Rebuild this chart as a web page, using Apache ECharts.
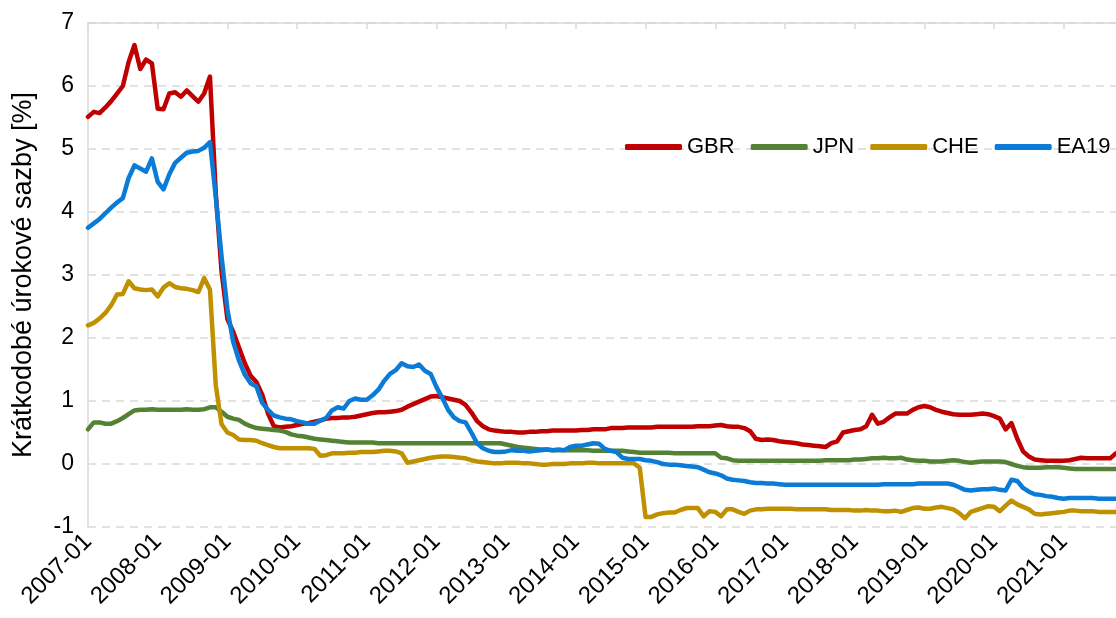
<!DOCTYPE html>
<html>
<head>
<meta charset="utf-8">
<script src="https://cdn.jsdelivr.net/npm/echarts@6/dist/echarts.min.js"></script>
<style>
  html, body { margin: 0; padding: 0; background: #fff; }
  #chart { width: 1116px; height: 618px; }
</style>
</head>
<body>
<div id="chart"></div>
<script>
// měsíce 2007-01 .. 2021-10
const months = [];
for (let y = 2007; y <= 2021; y++) {
    for (let m = 1; m <= 12; m++) {
        if (y === 2021 && m > 10) break;
        months.push(y + '-' + (m < 10 ? '0' + m : m));
    }
}

const gbr = [
    5.51, 5.59, 5.57, 5.66, 5.76, 5.88, 6.00, 6.38, 6.65, 6.27, 6.42, 6.36,
    5.64, 5.63, 5.88, 5.90, 5.83, 5.93, 5.84, 5.75, 5.88, 6.15, 4.30, 3.05,
    2.30, 2.10, 1.85, 1.60, 1.40, 1.30, 1.10, 0.80, 0.60, 0.58, 0.59, 0.60,
    0.62, 0.64, 0.65, 0.67, 0.69, 0.72, 0.73, 0.73, 0.74, 0.74, 0.75, 0.77,
    0.79, 0.81, 0.82, 0.82, 0.83, 0.84, 0.86, 0.91, 0.95, 0.99, 1.03, 1.07,
    1.08, 1.06, 1.04, 1.02, 1.00, 0.94, 0.82, 0.68, 0.60, 0.55, 0.53, 0.52,
    0.51, 0.51, 0.50, 0.50, 0.51, 0.51, 0.52, 0.52, 0.53, 0.53, 0.53, 0.53,
    0.53, 0.54, 0.54, 0.55, 0.55, 0.55, 0.57, 0.57, 0.57, 0.58, 0.58, 0.58,
    0.58, 0.58, 0.59, 0.59, 0.59, 0.59, 0.59, 0.59, 0.59, 0.60, 0.60, 0.60,
    0.61, 0.62, 0.60, 0.59, 0.59, 0.57, 0.52, 0.40, 0.38, 0.39, 0.38, 0.36,
    0.35, 0.34, 0.33, 0.31, 0.30, 0.29, 0.28, 0.27, 0.33, 0.36, 0.50, 0.52,
    0.54, 0.55, 0.60, 0.78, 0.64, 0.67, 0.74, 0.80, 0.80, 0.80, 0.86, 0.90,
    0.92, 0.90, 0.86, 0.83, 0.81, 0.79, 0.78, 0.78, 0.78, 0.79, 0.80, 0.79,
    0.76, 0.72, 0.55, 0.65, 0.40, 0.20, 0.12, 0.07, 0.06, 0.05, 0.05, 0.05,
    0.05, 0.06, 0.08, 0.10, 0.09, 0.09, 0.09, 0.09, 0.09, 0.17
];

const jpn = [
    0.55, 0.66, 0.66, 0.64, 0.64, 0.68, 0.73, 0.79, 0.85, 0.86, 0.86, 0.87,
    0.86, 0.86, 0.86, 0.86, 0.86, 0.87, 0.86, 0.86, 0.87, 0.90, 0.90, 0.83,
    0.75, 0.72, 0.70, 0.64, 0.60, 0.57, 0.56, 0.55, 0.54, 0.53, 0.51, 0.47,
    0.45, 0.44, 0.42, 0.40, 0.39, 0.38, 0.37, 0.36, 0.35, 0.34, 0.34, 0.34,
    0.34, 0.34, 0.33, 0.33, 0.33, 0.33, 0.33, 0.33, 0.33, 0.33, 0.33, 0.33,
    0.33, 0.33, 0.33, 0.33, 0.33, 0.33, 0.33, 0.33, 0.33, 0.33, 0.33, 0.33,
    0.31, 0.29, 0.27, 0.26, 0.25, 0.24, 0.23, 0.23, 0.22, 0.22, 0.22, 0.22,
    0.22, 0.22, 0.22, 0.21, 0.21, 0.21, 0.21, 0.21, 0.21, 0.20, 0.19, 0.18,
    0.18, 0.18, 0.18, 0.18, 0.18, 0.17, 0.17, 0.17, 0.17, 0.17, 0.17, 0.17,
    0.17, 0.10, 0.09, 0.06, 0.05, 0.05, 0.05, 0.05, 0.05, 0.05, 0.05, 0.05,
    0.05, 0.05, 0.05, 0.05, 0.05, 0.05, 0.05, 0.06, 0.06, 0.06, 0.06, 0.06,
    0.07, 0.07, 0.08, 0.09, 0.09, 0.10, 0.09, 0.09, 0.10, 0.07, 0.06, 0.05,
    0.05, 0.04, 0.04, 0.04, 0.05, 0.06, 0.05, 0.03, 0.02, 0.03, 0.04, 0.04,
    0.04, 0.04, 0.03, 0.00, -0.03, -0.05, -0.06, -0.06, -0.06, -0.05, -0.05, -0.05,
    -0.06, -0.07, -0.08, -0.08, -0.08, -0.08, -0.08, -0.08, -0.08, -0.08
];

const che = [
    2.20, 2.24, 2.31, 2.40, 2.52, 2.69, 2.70, 2.90, 2.79, 2.77, 2.76, 2.77,
    2.66, 2.80, 2.87, 2.81, 2.79, 2.78, 2.76, 2.73, 2.95, 2.77, 1.25, 0.63,
    0.50, 0.46, 0.39, 0.38, 0.38, 0.37, 0.33, 0.30, 0.27, 0.25, 0.25, 0.25,
    0.25, 0.25, 0.25, 0.24, 0.13, 0.14, 0.17, 0.17, 0.17, 0.18, 0.18, 0.19,
    0.19, 0.19, 0.20, 0.21, 0.21, 0.20, 0.17, 0.02, 0.04, 0.06, 0.08, 0.10,
    0.11, 0.12, 0.12, 0.11, 0.10, 0.09, 0.06, 0.04, 0.03, 0.02, 0.01, 0.01,
    0.02, 0.02, 0.02, 0.01, 0.01, 0.00, -0.01, -0.01, 0.00, 0.00, 0.00, 0.01,
    0.01, 0.01, 0.02, 0.02, 0.01, 0.01, 0.01, 0.01, 0.01, 0.01, 0.01, -0.06,
    -0.84, -0.84, -0.80, -0.78, -0.77, -0.77, -0.73, -0.70, -0.70, -0.70, -0.83, -0.75,
    -0.76, -0.83, -0.72, -0.72, -0.76, -0.79, -0.74, -0.72, -0.72, -0.71, -0.71, -0.71,
    -0.71, -0.71, -0.72, -0.72, -0.72, -0.72, -0.72, -0.72, -0.73, -0.73, -0.73, -0.73,
    -0.74, -0.74, -0.73, -0.74, -0.74, -0.75, -0.75, -0.74, -0.76, -0.73, -0.70, -0.69,
    -0.71, -0.71, -0.69, -0.68, -0.70, -0.72, -0.78, -0.86, -0.76, -0.73, -0.70, -0.67,
    -0.68, -0.75, -0.66, -0.58, -0.64, -0.68, -0.72, -0.79, -0.80, -0.79, -0.78, -0.77,
    -0.76, -0.74, -0.74, -0.75, -0.75, -0.75, -0.76, -0.76, -0.76, -0.76
];

const ea19 = [
    3.75, 3.82, 3.89, 3.98, 4.07, 4.15, 4.22, 4.54, 4.74, 4.69, 4.64, 4.85,
    4.48, 4.36, 4.60, 4.78, 4.86, 4.94, 4.96, 4.97, 5.02, 5.11, 4.24, 3.29,
    2.46, 1.94, 1.64, 1.42, 1.28, 1.23, 0.97, 0.86, 0.77, 0.74, 0.72, 0.71,
    0.68, 0.66, 0.64, 0.64, 0.69, 0.73, 0.85, 0.90, 0.88, 1.00, 1.04, 1.02,
    1.02, 1.09, 1.18, 1.32, 1.43, 1.49, 1.60, 1.55, 1.54, 1.58, 1.48, 1.43,
    1.22, 1.05, 0.86, 0.74, 0.68, 0.66, 0.50, 0.33, 0.25, 0.21, 0.19, 0.19,
    0.20, 0.22, 0.21, 0.21, 0.20, 0.21, 0.22, 0.23, 0.22, 0.23, 0.22, 0.27,
    0.29, 0.29, 0.31, 0.33, 0.32, 0.24, 0.21, 0.19, 0.10, 0.08, 0.08, 0.08,
    0.06, 0.05, 0.03, 0.00, -0.01, -0.01, -0.02, -0.03, -0.04, -0.05, -0.09, -0.13,
    -0.15, -0.18, -0.23, -0.25, -0.26, -0.27, -0.29, -0.30, -0.30, -0.31, -0.31, -0.32,
    -0.33, -0.33, -0.33, -0.33, -0.33, -0.33, -0.33, -0.33, -0.33, -0.33, -0.33, -0.33,
    -0.33, -0.33, -0.33, -0.33, -0.33, -0.32, -0.32, -0.32, -0.32, -0.32, -0.32, -0.31,
    -0.31, -0.31, -0.31, -0.31, -0.31, -0.33, -0.37, -0.41, -0.42, -0.41, -0.40, -0.40,
    -0.39, -0.41, -0.42, -0.25, -0.27, -0.38, -0.44, -0.48, -0.49, -0.51, -0.52, -0.54,
    -0.55, -0.54, -0.54, -0.54, -0.54, -0.54, -0.55, -0.55, -0.55, -0.55
];

const seriesDefs = [
    { name: 'GBR', data: gbr, color: '#c00000' },
    { name: 'JPN', data: jpn, color: '#548235' },
    { name: 'CHE', data: che, color: '#bf9000' },
    { name: 'EA19', data: ea19, color: '#0a7bd6' }
];

const font = '"Liberation Sans", Arial, sans-serif';
const gridColor = '#d9d9d9';

const chart = echarts.init(document.getElementById('chart'));
chart.setOption({
    animation: false,
    textStyle: { fontFamily: font },
    grid: { left: 88, top: 23, width: 1030, height: 504, containLabel: false },
    legend: {
        data: seriesDefs.map(s => s.name),
        left: 620,
        top: 131,
        icon: 'roundRect',
        itemWidth: 57,
        itemHeight: 6,
        itemGap: 16,
        textStyle: { fontSize: 22, color: '#000', fontFamily: font }
    },
    xAxis: [
        {
            type: 'category',
            data: months,
            boundaryGap: false,
            axisLine: { show: false },
            axisTick: { show: false },
            splitLine: { show: false },
            axisLabel: {
                interval: 11,
                rotate: 45,
                margin: 11,
                fontSize: 24,
                color: '#000',
                fontFamily: font
            }
        },
        {
            type: 'category',
            data: months,
            boundaryGap: false,
            position: 'top',
            axisLine: { onZero: true, lineStyle: { color: gridColor, width: 1.5 } },
            axisTick: { interval: 11, inside: true, length: 6, lineStyle: { color: gridColor, width: 1.5 } },
            axisLabel: { show: false },
            splitLine: { show: false }
        }
    ],
    yAxis: {
        type: 'value',
        min: -1,
        max: 7,
        interval: 1,
        name: 'Krátkodobé úrokové sazby [%]',
        nameLocation: 'middle',
        nameRotate: 90,
        nameGap: 51,
        nameTextStyle: { fontSize: 27, color: '#000', fontFamily: font },
        axisLine: { show: true, onZero: false, lineStyle: { color: gridColor, width: 1.5 } },
        axisTick: { show: false },
        axisLabel: { fontSize: 23, color: '#000', margin: 14, fontFamily: font },
        splitLine: { lineStyle: { color: gridColor, width: 1.5, type: [8, 6] } }
    },
    series: seriesDefs.map(s => ({
        name: s.name,
        type: 'line',
        data: s.data,
        xAxisIndex: 0,
        showSymbol: false,
        symbol: 'none',
        color: s.color,
        lineStyle: { width: 4.5, color: s.color, join: 'round', cap: 'round' }
    }))
});
</script>
</body>
</html>
